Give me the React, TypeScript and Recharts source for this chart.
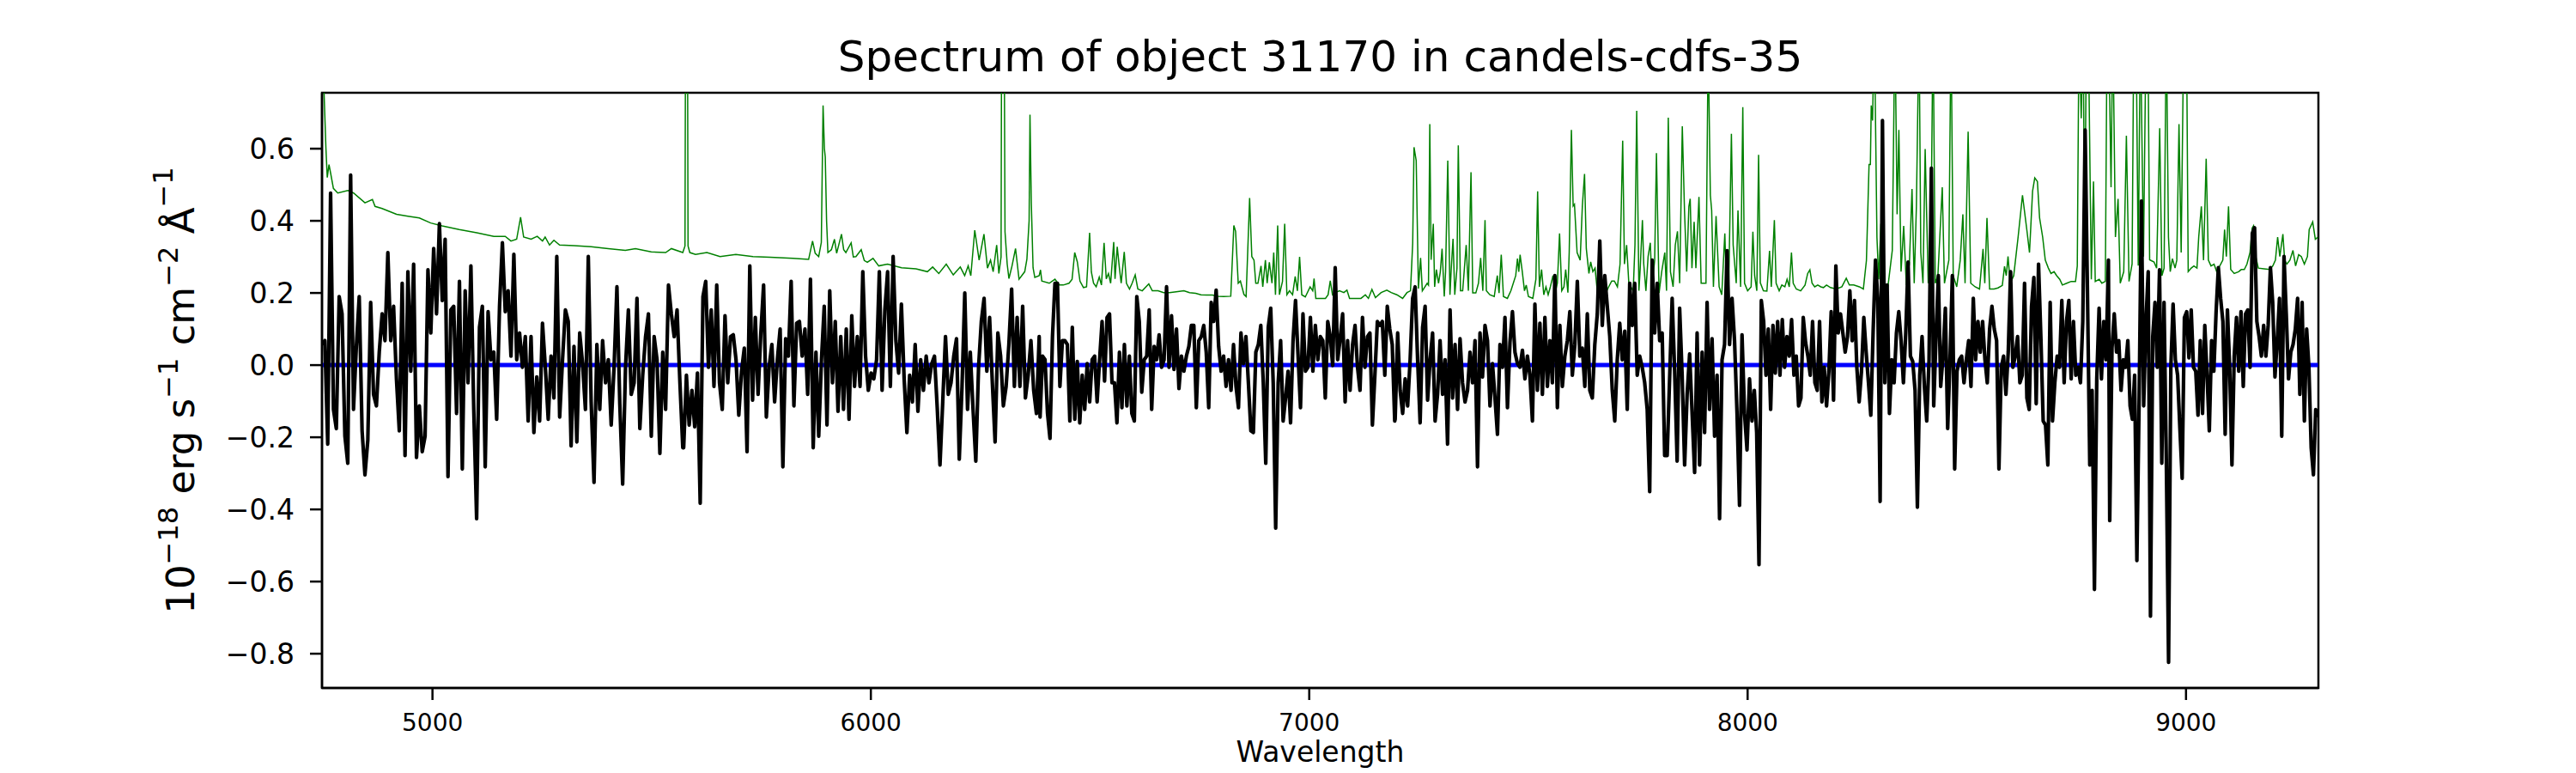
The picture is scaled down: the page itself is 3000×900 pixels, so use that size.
import React from 'react';
import { LineChart, Line, XAxis, YAxis, ReferenceArea } from 'recharts';

const BANDS: [number, number][] = [
  [4748, 5571],
  [5573, 6384],
  [6386, 7195],
  [7196, 8010],
  [8010, 8823],
  [8826, 9301],
];

const FLUX_1 = [
  0.057, 0.068, -0.219, 0.477, -0.123, -0.176, 0.19, 0.142, -0.197, -0.272, 0.527, -0.123, 0.052, 0.19, -0.182,
  -0.304, -0.208, 0.174, -0.081, -0.113, 0.036, 0.142, 0.068, 0.312, 0.068, 0.163, -0.038, -0.182, 0.227, -0.251,
  0.259, -0.017, 0.28, -0.256, -0.113, -0.24, -0.197, 0.264, 0.089, 0.323, 0.142, 0.392, 0.179, 0.349, -0.309,
  0.153, 0.163, -0.134, 0.232, -0.288, 0.206, -0.049, 0.275, -0.123, -0.426, 0.105, 0.163, -0.282, 0.148, 0.015,
  0.036, -0.15, 0.163, 0.339, 0.148, 0.206, 0.025, 0.307, 0.015, 0.089, -0.006, 0.079, -0.155, 0.079, -0.187,
  -0.033, -0.155, 0.116, -0.006, -0.15, 0.025, -0.091, 0.301, -0.144, 0.015, 0.153, 0.121, -0.224, 0.052, -0.213,
  0.089, 0.004, -0.123, 0.301, -0.102, -0.325, 0.057, -0.123, 0.068, -0.049, 0.015, -0.166, -0.006, 0.217, -0.107,
  -0.33, -0.006, 0.153, -0.081, -0.049, 0.185, -0.176, -0.028, 0.079, 0.142, -0.197, 0.079, 0.015, -0.245, 0.036,
  -0.123, 0.222, 0.142, 0.079, 0.153, -0.049, -0.229,
];

const FLUX_2 = [
  -0.229, -0.028, -0.166, -0.07, -0.171, -0.022, -0.383, 0.19, 0.232, -0.006, 0.153, -0.059, 0.222, -0.049, -0.123,
  0.137, -0.049, 0.079, 0.084, 0.015, -0.139, -0.017, 0.047, -0.24, 0.275, -0.097, 0.132, -0.081, 0.089, 0.222,
  -0.144, -0.006, 0.057, -0.102, 0.015, 0.1, -0.282, 0.073, 0.025, 0.232, -0.113, 0.116, 0.121, 0.025, 0.1, -0.081,
  0.238, -0.229, 0.036, -0.197, 0.015, 0.163, -0.166, 0.206, -0.049, 0.121, -0.128, 0.079, -0.123, 0.1, -0.15,
  0.137, -0.059, 0.079, -0.059, 0.259, 0.025, -0.07, -0.022, -0.038, 0.015, 0.259, -0.07, 0.153, 0.259, -0.059,
  0.301, 0.068, -0.022, 0.169, -0.038, -0.187, -0.028, -0.102, 0.057, -0.128, 0.015, -0.07, 0.025, -0.049, 0.004,
  0.025, -0.118, -0.277, -0.102, 0.079, -0.081, -0.049, 0.025, 0.073, -0.261, -0.059, 0.2, -0.123, 0.036, -0.123,
  -0.266, -0.006, 0.121, 0.185, -0.017, 0.132, -0.049, -0.213, 0.089, 0.025, -0.113, -0.059, 0.057, 0.211, -0.059,
  0.132, -0.059, 0.163, -0.091, -0.028, 0.068, -0.07, -0.134, 0.079,
];

const FLUX_3 = [
  -0.144, 0.025, 0.015, -0.134, -0.203, 0.079, 0.227, 0.227, -0.059, 0.068, 0.068, 0.057, -0.155, 0.105, -0.15,
  0.01, -0.16, -0.028, -0.123, 0.004, -0.102, 0.015, 0.025, -0.102, 0.015, 0.121, -0.044, 0.132, 0.142, -0.049,
  -0.049, -0.16, 0.036, -0.118, 0.057, -0.113, 0.025, -0.134, -0.155, 0.19, 0.121, -0.075, 0.015, 0.025, 0.153,
  -0.123, 0.052, 0.015, 0.084, -0.006, 0.015, 0.217, -0.006, 0.137, -0.012, 0.1, -0.065, 0.025, -0.017, 0.025,
  0.052, 0.11, 0.11, -0.118, 0.068, 0.079, 0.11, 0.036, -0.118, 0.174, 0.121, 0.208, 0.052, -0.017, 0.025, -0.059,
  0.015, -0.07, 0.057, -0.059, -0.118, 0.089, 0.004, 0.079, -0.049, -0.182, -0.187, 0.036, 0.057, 0.11, -0.049,
  -0.272, 0.105, 0.158, -0.049, -0.452, -0.049, 0.068, -0.155, -0.091, -0.017, -0.16, 0.068, 0.179, 0.031, -0.118,
  0.142, -0.017, -0.006, 0.132, -0.017, 0.11, 0.015, 0.079, 0.068, -0.091, 0.121, 0.079, -0.001, 0.27, 0.015,
  0.073, 0.142, -0.102, 0.068, -0.07, 0.057, 0.11, -0.006, -0.07, 0.132, -0.006, 0.079, 0.089, -0.166, -0.028,
  0.121, 0.11, 0.121, -0.028, 0.163, 0.1, 0.057, -0.155,
];

const FLUX_4 = [
  -0.15, 0.089, -0.07, -0.134, -0.038, -0.113, 0.015, 0.185, 0.217, 0.015, -0.16, 0.105, 0.163, -0.097, 0.015,
  0.089, -0.155, -0.081, 0.068, -0.081, 0.015, -0.219, 0.153, -0.091, 0.057, -0.123, 0.073, -0.049, -0.102, -0.07,
  0.036, -0.049, 0.068, -0.282, 0.089, -0.033, 0.11, 0.068, -0.113, 0.004, -0.091, -0.192, 0.057, -0.006, 0.132,
  -0.118, 0.063, 0.148, 0.036, 0.004, -0.006, 0.041, -0.038, 0.025, -0.028, -0.155, 0.169, -0.07, 0.116, -0.081,
  0.132, -0.059, 0.068, -0.049, 0.248, -0.118, 0.11, -0.059, 0.025, 0.068, 0.148, -0.028, 0.057, 0.232, 0.025,
  0.047, -0.059, 0.142, -0.07, -0.091, 0.057, 0.142, 0.344, 0.11, 0.248, 0.163, 0.079, -0.07, -0.155, 0.015,
  0.116, 0.015, 0.094, -0.123, 0.227, 0.11, 0.227, -0.028, 0.025, -0.006, -0.049, -0.123, -0.351, 0.291, 0.089,
  0.227, 0.068, 0.089, -0.251, -0.251, -0.033, 0.185, -0.017, -0.266, 0.158, -0.028, -0.277, -0.081, 0.031,
  -0.134, -0.298, 0.089, -0.277, 0.036, -0.187, 0.174, -0.123, 0.073, -0.197, -0.028, -0.426, 0.015, 0.057, 0.317,
  0.057, 0.185, 0.068, -0.134, -0.389, 0.084, -0.134, -0.235, -0.038, -0.155,
];

const FLUX_5 = [
  -0.155, -0.07, -0.187, -0.553, 0.179, 0.121, -0.028, 0.1, -0.123, 0.11, -0.022, 0.121, -0.028, 0.126, -0.006,
  0.079, 0.025, 0.126, -0.028, 0.025, -0.113, -0.091, 0.132, 0.063, 0.025, -0.028, 0.121, -0.049, -0.07, 0.121,
  -0.102, -0.006, -0.113, -0.017, 0.148, -0.097, 0.275, 0.089, 0.142, 0.089, 0.036, 0.079, 0.206, 0.068, 0.179,
  -0.006, -0.102, -0.017, 0.132, 0.036, -0.049, -0.139, 0.094, 0.291, 0.185, -0.378, 0.678, -0.049, 0.222, -0.134,
  0.015, -0.049, 0.089, 0.148, 0.068, -0.049, 0.089, 0.286, 0.025, 0.01, -0.07, -0.394, -0.028, 0.079, -0.059,
  -0.155, 0.015, 0.546, -0.113, 0.079, 0.248, -0.059, 0.025, 0.158, -0.176, 0.015, 0.248, -0.288, -0.017, 0.015,
  0.025, -0.049, 0.015, 0.068, -0.059, 0.185, 0.015, 0.121, 0.036, 0.121, 0.015, -0.049, 0.1, 0.163, 0.1, 0.068,
  -0.288, -0.006, 0.025, -0.081, 0.036, 0.259, -0.006, 0.025, 0.079, -0.049, -0.028, 0.227, -0.091, -0.123, 0.163,
  0.243, -0.107, 0.28, 0.079, -0.155, -0.166, -0.277, 0.174, -0.155, -0.049, 0.025, -0.006, 0.179, -0.049, 0.121,
  0.179, -0.038, 0.121, -0.028, -0.006, -0.049, 0.121, 0.652, 0.206, -0.277, -0.07, -0.622, -0.038, 0.158, -0.038,
  0.121, 0.015, 0.291,
];

const FLUX_6 = [
  -0.431, 0.047, 0.142, 0.036, 0.068, -0.07, 0.015, -0.006, 0.068, -0.113, -0.15, -0.028, -0.542, -0.091, 0.455,
  -0.113, 0.121, 0.259, -0.696, 0.079, 0.174, -0.006, 0.264, -0.272, 0.174, -0.261, -0.824, -0.006, 0.169, 0.015,
  -0.028, -0.176, -0.314, 0.132, 0.148, 0.02, 0.153, -0.006, -0.017, -0.139, 0.068, -0.134, 0.11, -0.028, -0.182,
  0.068, -0.017, 0.148, 0.27, 0.185, 0.121, -0.192, 0.153, -0.006, -0.277, 0.025, 0.132, -0.017, 0.148, -0.059,
  0.142, 0.153, -0.006, 0.365, 0.381, 0.121, 0.079, 0.025, 0.11, 0.025, 0.11, 0.27, 0.174, -0.033, 0.068, 0.185,
  -0.197, 0.301, 0.142, -0.038, 0.036, 0.057, 0.1, 0.185, -0.081, 0.174, -0.155, 0.1, -0.006, -0.229, -0.304,
  -0.123, -0.144,
];

const FLUX_STRIPS = [FLUX_1, FLUX_2, FLUX_3, FLUX_4, FLUX_5, FLUX_6];

// sky spectrum: [wavelength, flux] pairs, sky lines run off the top of the frame
const SKY_1: [number, number][] = [
  [4748, 0.9], [4752, 0.78], [4757, 0.6], [4760, 0.52], [4764, 0.556], [4768, 0.53], [4774, 0.49], [4784, 0.477],
  [4807, 0.484], [4820, 0.477], [4846, 0.45], [4863, 0.459], [4869, 0.44], [4885, 0.434], [4918, 0.418],
  [4944, 0.413], [4970, 0.408], [4996, 0.394], [5022, 0.386], [5061, 0.376], [5101, 0.367], [5140, 0.357],
  [5166, 0.357], [5179, 0.344], [5192, 0.349], [5201, 0.41], [5208, 0.355], [5225, 0.349], [5239, 0.357],
  [5251, 0.344], [5257, 0.355], [5267, 0.333], [5277, 0.346], [5290, 0.333], [5323, 0.331], [5362, 0.328],
  [5401, 0.323], [5440, 0.318], [5463, 0.323], [5499, 0.314], [5532, 0.312], [5545, 0.323], [5571, 0.312],
];

const SKY_2: [number, number][] = [
  [5576, 0.33], [5578, 1.3], [5581, 1.3], [5583, 0.33], [5587, 0.312], [5600, 0.307], [5626, 0.312], [5656, 0.301],
  [5692, 0.307], [5731, 0.301], [5770, 0.299], [5822, 0.296], [5858, 0.293], [5867, 0.344], [5873, 0.31],
  [5881, 0.301], [5887, 0.34], [5891, 0.72], [5894, 0.6], [5896, 0.577], [5899, 0.4], [5902, 0.312], [5910, 0.32],
  [5917, 0.349], [5922, 0.31], [5933, 0.363], [5938, 0.32], [5943, 0.312], [5955, 0.339], [5960, 0.3],
  [5966, 0.301], [5978, 0.32], [5985, 0.29], [5992, 0.285], [6005, 0.296], [6018, 0.275], [6038, 0.28],
  [6070, 0.27], [6103, 0.267], [6129, 0.259], [6141, 0.272], [6155, 0.254], [6172, 0.28], [6188, 0.25],
  [6204, 0.272], [6214, 0.248], [6222, 0.275], [6228, 0.248], [6237, 0.374], [6247, 0.291], [6258, 0.363],
  [6266, 0.269], [6273, 0.291], [6279, 0.259], [6287, 0.333], [6292, 0.254], [6297, 0.3], [6299, 1.3], [6303, 1.3],
  [6306, 0.37], [6311, 0.28], [6315, 0.24], [6322, 0.275], [6330, 0.323], [6338, 0.238], [6351, 0.259],
  [6356, 0.294], [6361, 0.4], [6363, 0.694], [6366, 0.45], [6370, 0.27], [6374, 0.243], [6384, 0.248],
];

const SKY_3: [number, number][] = [
  [6387, 0.264], [6390, 0.233], [6407, 0.227], [6420, 0.238], [6430, 0.222], [6439, 0.222], [6452, 0.227],
  [6459, 0.238], [6465, 0.312], [6471, 0.286], [6477, 0.233], [6485, 0.215], [6492, 0.217], [6499, 0.367],
  [6503, 0.258], [6508, 0.227], [6514, 0.217], [6521, 0.244], [6526, 0.222], [6532, 0.339], [6537, 0.239],
  [6542, 0.254], [6547, 0.227], [6554, 0.341], [6557, 0.239], [6562, 0.328], [6567, 0.269], [6571, 0.227],
  [6578, 0.314], [6583, 0.227], [6590, 0.211], [6596, 0.227], [6603, 0.25], [6609, 0.211], [6619, 0.206],
  [6634, 0.225], [6642, 0.206], [6655, 0.206], [6668, 0.201], [6681, 0.201], [6700, 0.204], [6714, 0.206],
  [6727, 0.201], [6741, 0.199], [6753, 0.195], [6766, 0.194], [6779, 0.194], [6792, 0.191], [6805, 0.19],
  [6821, 0.191], [6828, 0.387], [6832, 0.371], [6838, 0.227], [6843, 0.233], [6851, 0.196], [6856, 0.19],
  [6864, 0.463], [6869, 0.301], [6874, 0.291], [6878, 0.227], [6883, 0.227], [6890, 0.275], [6894, 0.217],
  [6900, 0.291], [6904, 0.227], [6909, 0.285], [6915, 0.227], [6919, 0.312], [6923, 0.195], [6928, 0.387],
  [6932, 0.195], [6939, 0.232], [6944, 0.392], [6949, 0.195], [6955, 0.206], [6962, 0.195], [6968, 0.246],
  [6973, 0.206], [6978, 0.3], [6983, 0.195], [6991, 0.189], [7002, 0.217], [7008, 0.206], [7011, 0.24],
  [7015, 0.185], [7027, 0.185], [7037, 0.185], [7043, 0.195], [7048, 0.234], [7053, 0.195], [7060, 0.201],
  [7069, 0.206], [7079, 0.201], [7086, 0.208], [7092, 0.185], [7105, 0.185], [7118, 0.185], [7128, 0.195],
  [7135, 0.185], [7143, 0.21], [7151, 0.187], [7164, 0.201], [7177, 0.208], [7187, 0.201],
];

const SKY_4: [number, number][] = [
  [7200, 0.195], [7213, 0.185], [7223, 0.201], [7231, 0.206], [7236, 0.338], [7239, 0.604], [7244, 0.567],
  [7249, 0.212], [7254, 0.297], [7258, 0.206], [7264, 0.217], [7269, 0.227], [7272, 0.222], [7275, 0.668],
  [7278, 0.292], [7283, 0.392], [7286, 0.217], [7290, 0.265], [7295, 0.227], [7299, 0.259], [7303, 0.323],
  [7308, 0.19], [7311, 0.259], [7316, 0.567], [7321, 0.195], [7324, 0.269], [7328, 0.35], [7332, 0.195],
  [7337, 0.269], [7340, 0.609], [7345, 0.206], [7350, 0.206], [7354, 0.269], [7358, 0.333], [7363, 0.206],
  [7369, 0.535], [7373, 0.2], [7380, 0.2], [7386, 0.227], [7391, 0.297], [7396, 0.206], [7401, 0.402],
  [7404, 0.206], [7412, 0.195], [7422, 0.19], [7429, 0.248], [7433, 0.2], [7438, 0.306], [7443, 0.19],
  [7452, 0.185], [7460, 0.206], [7471, 0.248], [7475, 0.295], [7478, 0.259], [7481, 0.306], [7486, 0.259],
  [7491, 0.206], [7495, 0.222], [7500, 0.19], [7510, 0.185], [7517, 0.238], [7521, 0.482], [7525, 0.217],
  [7530, 0.265], [7535, 0.195], [7540, 0.217], [7545, 0.195], [7550, 0.217], [7556, 0.248], [7561, 0.2],
  [7566, 0.227], [7571, 0.365], [7576, 0.206], [7581, 0.217], [7585, 0.265], [7590, 0.201], [7593, 0.312],
  [7598, 0.652], [7602, 0.441], [7605, 0.446], [7611, 0.312], [7618, 0.291], [7623, 0.441], [7628, 0.53],
  [7632, 0.323], [7638, 0.254], [7642, 0.286], [7647, 0.259], [7652, 0.269], [7657, 0.206], [7662, 0.291],
  [7667, 0.206], [7677, 0.201], [7683, 0.217], [7690, 0.233], [7696, 0.233], [7703, 0.217], [7709, 0.28],
  [7715, 0.622], [7719, 0.28], [7724, 0.333], [7729, 0.227], [7739, 0.206], [7743, 0.333], [7747, 0.705],
  [7752, 0.206], [7755, 0.269], [7760, 0.402], [7763, 0.281], [7768, 0.206], [7773, 0.301], [7778, 0.339],
  [7782, 0.217], [7788, 0.291], [7792, 0.588], [7798, 0.2], [7804, 0.259], [7811, 0.312], [7815, 0.206],
  [7819, 0.686], [7824, 0.259], [7830, 0.217], [7835, 0.333], [7840, 0.371], [7845, 0.227], [7851, 0.662],
  [7856, 0.429], [7861, 0.259], [7866, 0.44], [7869, 0.461], [7873, 0.269], [7878, 0.397], [7882, 0.269],
  [7889, 0.466], [7894, 0.227], [7899, 0.227], [7905, 0.227], [7910, 0.9], [7915, 0.471], [7918, 0.429],
  [7922, 0.217], [7928, 0.413], [7935, 0.217], [7941, 0.195], [7948, 0.365], [7952, 0.195], [7957, 0.227],
  [7963, 0.641], [7967, 0.333], [7974, 0.227], [7978, 0.429], [7984, 0.217], [7989, 0.715], [7993, 0.227],
  [8000, 0.206], [8008, 0.217],
];

const SKY_5: [number, number][] = [
  [8012, 0.37], [8016, 0.248], [8021, 0.206], [8025, 0.583], [8029, 0.228], [8036, 0.206], [8044, 0.205],
  [8050, 0.317], [8054, 0.217], [8061, 0.402], [8065, 0.227], [8072, 0.206], [8078, 0.222], [8085, 0.217],
  [8090, 0.238], [8095, 0.217], [8100, 0.312], [8104, 0.227], [8111, 0.211], [8121, 0.206], [8131, 0.222],
  [8137, 0.254], [8142, 0.264], [8147, 0.227], [8153, 0.217], [8160, 0.222], [8167, 0.217], [8173, 0.215],
  [8180, 0.222], [8189, 0.215], [8202, 0.211], [8215, 0.217], [8225, 0.241], [8232, 0.222], [8242, 0.222],
  [8255, 0.217], [8264, 0.211], [8271, 0.29], [8277, 0.556], [8280, 0.556], [8282, 0.72], [8285, 0.678],
  [8289, 0.95], [8295, 0.354], [8299, 0.238], [8304, 0.392], [8308, 0.238], [8313, 0.227], [8320, 0.217],
  [8330, 0.318], [8336, 0.95], [8341, 0.418], [8345, 0.652], [8350, 0.259], [8356, 0.386], [8362, 0.222],
  [8369, 0.28], [8375, 0.488], [8380, 0.227], [8385, 0.44], [8391, 0.95], [8395, 0.312], [8400, 0.227],
  [8405, 0.599], [8412, 0.227], [8418, 0.333], [8423, 0.95], [8428, 0.227], [8434, 0.248], [8444, 0.493],
  [8449, 0.227], [8459, 0.291], [8464, 0.95], [8469, 0.248], [8477, 0.217], [8485, 0.291], [8491, 0.418],
  [8496, 0.227], [8503, 0.647], [8509, 0.227], [8519, 0.217], [8529, 0.211], [8537, 0.322], [8541, 0.227],
  [8546, 0.408], [8552, 0.211], [8562, 0.211], [8571, 0.214], [8581, 0.221], [8586, 0.274], [8590, 0.248],
  [8594, 0.301], [8599, 0.227], [8607, 0.248], [8617, 0.355], [8627, 0.471], [8637, 0.374], [8643, 0.312],
  [8650, 0.482], [8655, 0.519], [8661, 0.509], [8666, 0.408], [8673, 0.355], [8679, 0.291], [8686, 0.269],
  [8692, 0.254], [8699, 0.259], [8705, 0.248], [8712, 0.238], [8718, 0.222], [8728, 0.227], [8738, 0.232],
  [8748, 0.232], [8752, 0.275], [8756, 0.95], [8761, 0.684], [8765, 0.95], [8769, 0.349], [8773, 0.95],
  [8777, 0.95], [8784, 0.238], [8789, 0.509], [8793, 0.232], [8802, 0.238], [8808, 0.227], [8816, 0.232],
];

const SKY_6: [number, number][] = [
  [8820, 0.95], [8826, 0.737], [8829, 0.493], [8833, 0.95], [8839, 0.355], [8845, 0.461], [8850, 0.227],
  [8858, 0.259], [8864, 0.636], [8870, 0.232], [8877, 0.28], [8881, 0.95], [8886, 0.95], [8891, 0.276],
  [8896, 0.95], [8903, 0.301], [8909, 0.95], [8913, 0.95], [8917, 0.292], [8927, 0.286], [8933, 0.269],
  [8940, 0.657], [8945, 0.248], [8950, 0.269], [8955, 0.95], [8960, 0.355], [8964, 0.259], [8969, 0.295],
  [8975, 0.269], [8979, 0.291], [8984, 0.668], [8989, 0.312], [8995, 0.95], [9001, 0.95], [9005, 0.259],
  [9012, 0.269], [9018, 0.275], [9025, 0.269], [9029, 0.355], [9035, 0.44], [9040, 0.291], [9046, 0.572],
  [9051, 0.291], [9057, 0.275], [9064, 0.28], [9070, 0.259], [9077, 0.275], [9084, 0.291], [9088, 0.376],
  [9092, 0.301], [9097, 0.44], [9102, 0.265], [9110, 0.254], [9120, 0.259], [9126, 0.265], [9133, 0.265],
  [9139, 0.28], [9146, 0.312], [9151, 0.38], [9154, 0.386], [9159, 0.301], [9165, 0.269], [9178, 0.267],
  [9191, 0.265], [9198, 0.275], [9204, 0.291], [9209, 0.355], [9214, 0.301], [9221, 0.363], [9225, 0.291],
  [9230, 0.28], [9237, 0.291], [9244, 0.318], [9250, 0.275], [9257, 0.306], [9263, 0.301], [9270, 0.28],
  [9277, 0.301], [9281, 0.376], [9289, 0.397], [9295, 0.349], [9301, 0.355],
];

const SKY = [SKY_1, SKY_2, SKY_3, SKY_4, SKY_5, SKY_6];

const X_DOMAIN: [number, number] = [4748, 9302];
const Y_DOMAIN: [number, number] = [-0.895, 0.755];
const X_TICKS = [5000, 6000, 7000, 8000, 9000];
const Y_TICKS = [-0.8, -0.6, -0.4, -0.2, 0, 0.2, 0.4, 0.6];
const ZERO_LEVEL = [
  { w: 4748, z: 0 },
  { w: 9301, z: 0 },
];

const TITLE = 'Spectrum of object 31170 in candels-cdfs-35';

const fluxData = FLUX_STRIPS.flatMap((vals, k) => {
  const [lo, hi] = BANDS[k];
  return vals.map((f, i) => ({ w: lo + ((hi - lo) * i) / (vals.length - 1), f }));
});
const skyData = SKY.flat().map(([w, s]) => ({ w, s }));

const FONT = '"DejaVu Sans", sans-serif';
const fmtY = (v: number) => (v < 0 ? '\u2212' : '') + Math.abs(v).toFixed(1);

const YLabel = (props: any) => {
  const vb = props.viewBox || { x: 0, y: 0, width: 0, height: 0 };
  const x = vb.x + 76;
  const y = vb.y + vb.height / 2;
  const sup = 32;
  return (
    <text
      x={x}
      y={y}
      transform={`rotate(-90, ${x}, ${y})`}
      textAnchor="middle"
      fontSize={45}
      fontFamily={FONT}
      fill="#000"
    >
      <tspan>10</tspan>
      <tspan dy={-19} fontSize={sup}>{'\u221218'}</tspan>
      <tspan dy={19}>{' erg s'}</tspan>
      <tspan dy={-19} fontSize={sup}>{'\u22121'}</tspan>
      <tspan dy={19}>{' cm'}</tspan>
      <tspan dy={-19} fontSize={sup}>{'\u22122'}</tspan>
      <tspan dy={19}>{' \u00c5'}</tspan>
      <tspan dy={-25} fontSize={sup}>{'\u22121'}</tspan>
    </text>
  );
};

const XLabel = (props: any) => {
  const vb = props.viewBox || { x: 0, y: 0, width: 0, height: 0 };
  return (
    <text x={vb.x + vb.width / 2} y={vb.y + 86} textAnchor="middle" fontSize={33} fontFamily={FONT} fill="#000">
      Wavelength
    </text>
  );
};

const frame = { stroke: '#000', strokeWidth: 2.5 };

export default function App() {
  return (
    <div style={{ position: 'absolute', left: 0, top: 0, width: 3000, height: 900, background: '#fff' }}>
      <div
        style={{
          position: 'absolute',
          left: 375,
          width: 2325,
          top: 41,
          textAlign: 'center',
          fontFamily: FONT,
          fontSize: 50,
          lineHeight: '50px',
          color: '#000',
          whiteSpace: 'nowrap',
        }}
      >
        {TITLE}
      </div>
      <LineChart width={3000} height={900} margin={{ top: 108, right: 300, bottom: 9, left: 150 }}>
        <XAxis
          dataKey="w"
          type="number"
          domain={X_DOMAIN}
          allowDataOverflow
          ticks={X_TICKS}
          interval={0}
          height={90}
          tickSize={14}
          tickMargin={16}
          axisLine={frame}
          tickLine={frame}
          tick={{ fontSize: 28, fontFamily: FONT, fill: '#000' }}
          label={<XLabel />}
        />
        <YAxis
          type="number"
          domain={Y_DOMAIN}
          allowDataOverflow
          ticks={Y_TICKS}
          interval={0}
          width={225}
          tickSize={14}
          tickMargin={18}
          tickFormatter={fmtY}
          axisLine={frame}
          tickLine={frame}
          tick={{ fontSize: 33, fontFamily: FONT, fill: '#000' }}
          label={<YLabel />}
        />
        <Line
          data={skyData}
          dataKey="s"
          stroke="#008000"
          strokeWidth={1.5}
          dot={false}
          activeDot={false}
          isAnimationActive={false}
        />
        <Line
          data={ZERO_LEVEL}
          dataKey="z"
          stroke="#0000ff"
          strokeWidth={5}
          dot={false}
          activeDot={false}
          isAnimationActive={false}
        />
        <Line
          data={fluxData}
          dataKey="f"
          stroke="#000"
          strokeWidth={4.2}
          strokeLinejoin="round"
          dot={false}
          activeDot={false}
          isAnimationActive={false}
        />
        {/* axes frame (top and right spines) */}
        <ReferenceArea
          x1={X_DOMAIN[0]}
          x2={X_DOMAIN[1]}
          y1={Y_DOMAIN[0]}
          y2={Y_DOMAIN[1]}
          fill="none"
          fillOpacity={0}
          stroke="#000"
          strokeWidth={2.5}
          ifOverflow="visible"
        />
      </LineChart>
    </div>
  );
}
